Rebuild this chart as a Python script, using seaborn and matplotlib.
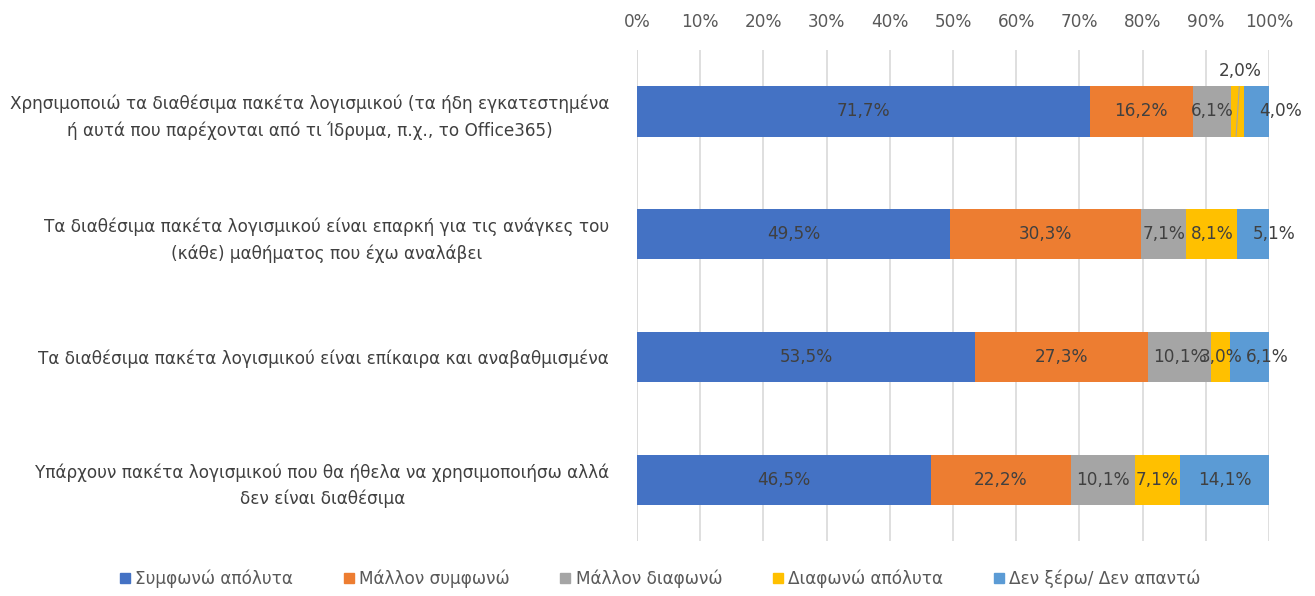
import matplotlib.pyplot as plt
import seaborn as sns
import pandas as pd
import numpy as np
from matplotlib.ticker import PercentFormatter

# Δεδομένα
questions = [
    "Χρησιμοποιώ τα διαθέσιμα πακέτα λογισμικού (τα ήδη εγκατεστημένα\nή αυτά που παρέχονται από τι Ίδρυμα, π.χ., το Office365)",
    "Τα διαθέσιμα πακέτα λογισμικού είναι επαρκή για τις ανάγκες του\n(κάθε) μαθήματος που έχω αναλάβει",
    "Τα διαθέσιμα πακέτα λογισμικού είναι επίκαιρα και αναβαθμισμένα",
    "Υπάρχουν πακέτα λογισμικού που θα ήθελα να χρησιμοποιήσω αλλά\nδεν είναι διαθέσιμα",
]
answers = ["Συμφωνώ απόλυτα", "Μάλλον συμφωνώ", "Μάλλον διαφωνώ", "Διαφωνώ απόλυτα", "Δεν ξέρω/ Δεν απαντώ"]
agree_fully = [71.7, 49.5, 53.5, 46.5]
agree_rather = [16.2, 30.3, 27.3, 22.2]
disagree_rather = [6.1, 7.1, 10.1, 10.1]
disagree_fully = [2.0, 8.1, 3.0, 7.1]
dont_know = [4.0, 5.1, 6.1, 14.1]

colors = ["#4472C4", "#ED7D31", "#A5A5A5", "#FFC000", "#5B9BD5"]

plt.rcParams['font.family'] = ['DejaVu Sans']
FS = 12.2

df = pd.DataFrame({"question": questions})
series = [agree_fully, agree_rather, disagree_rather, disagree_fully, dont_know]
for name, vals in zip(answers, series):
    df[name] = vals
cum = df[answers].cumsum(axis=1)

fig = plt.figure(figsize=(13.15, 5.96), dpi=100)
ax = fig.add_axes([0.4844, 0.092, 0.4806, 0.824])

# στοιβαγμένες μπάρες: σχεδίαση των αθροισμάτων από το μεγαλύτερο προς το μικρότερο
for i in range(len(answers) - 1, -1, -1):
    sns.barplot(x=np.minimum(cum[answers[i]], 100), y=df["question"], orient="h",
                color=colors[i], width=0.41, saturation=1, ax=ax, zorder=2)

# ετικέτες τιμών
for r in range(len(questions)):
    left = 0
    for i, name in enumerate(answers):
        v = df[name][r]
        mid = left + v / 2
        txt = f"{v:.1f}%".replace(".", ",")
        if v <= 2.0:
            ax.text(mid + 0.4, r - 0.33, txt, ha="center", va="center", fontsize=FS, color="#404040")
            ax.plot([mid - 0.2, mid + 0.3], [r + 0.2, r - 0.2], color="#A5A5A5", lw=0.8, zorder=3)
        elif i == len(answers) - 1 and v < 7:
            ax.text(left + 2.5, r, txt, ha="left", va="center", fontsize=FS, color="#404040", zorder=4)
        else:
            ax.text(mid, r, txt, ha="center", va="center", fontsize=FS, color="#404040", zorder=4)
        left += v

ax.set_xlim(0, 100)
ax.set_ylim(3.5, -0.5)
ax.xaxis.tick_top()
ax.xaxis.set_major_locator(plt.MultipleLocator(10))
ax.xaxis.set_major_formatter(PercentFormatter(decimals=0))
ax.tick_params(axis="x", length=0, pad=14, labelsize=FS, labelcolor="#595959")
ax.tick_params(axis="y", length=0, pad=20, labelsize=FS, labelcolor="#404040")
for lab in ax.get_yticklabels():
    lab.set_multialignment("center")
    lab.set_linespacing(1.55)
ax.grid(axis="x", color="#D9D9D9", lw=1.2, zorder=0)
ax.set_axisbelow(True)
ax.set_xlabel("")
ax.set_ylabel("")
for s in ax.spines.values():
    s.set_visible(False)
ax.axvline(0, color="#D9D9D9", lw=1.2, zorder=1)

handles = [plt.Rectangle((0, 0), 1, 1, color=c) for c in colors]
fig.legend(handles, answers, loc="lower center", bbox_to_anchor=(0.502, -0.012), ncol=5, frameon=False,
           fontsize=FS, handlelength=0.6, handleheight=0.6, columnspacing=3.0, handletextpad=0.3,
           labelcolor="#595959")

fig.savefig("out.png", dpi=100)
